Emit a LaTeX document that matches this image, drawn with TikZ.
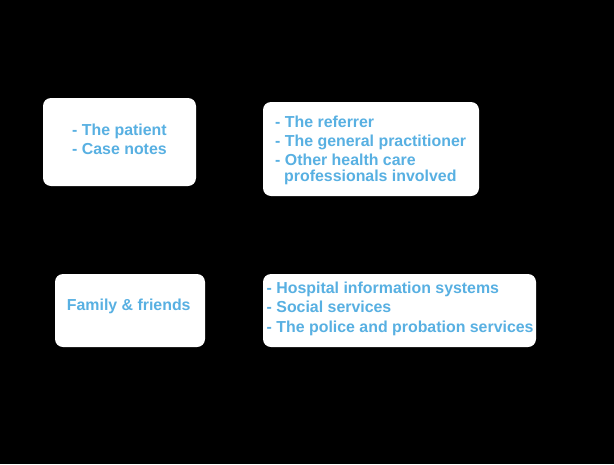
\documentclass[tikz,border=0pt]{standalone}
\usepackage{fontspec}
\setmainfont{Liberation Sans}
\definecolor{txtblue}{RGB}{88,176,226}
\tikzset{
  box/.style={draw=none,fill=white,rounded corners=8pt},
  ln/.style={anchor=base west,inner sep=0pt,text=txtblue,font=\bfseries\fontsize{15.9}{19}\selectfont}
}
\begin{document}
\begin{tikzpicture}[x=1pt,y=-1pt]
\fill[black] (0,0) rectangle (614,464);
\useasboundingbox (0,0) rectangle (614,464);
% boxes
\node[box,minimum width=153pt,minimum height=88pt,inner sep=0pt] (b1) at (119.5,142) {};
\node[box,minimum width=216pt,minimum height=94pt,inner sep=0pt] (b2) at (371,149) {};
\node[box,minimum width=150pt,minimum height=73pt,inner sep=0pt] (b3) at (130,310.5) {};
\node[box,minimum width=273pt,minimum height=73pt,inner sep=0pt] (b4) at (399.5,310.5) {};
% texts
\node[ln] (t11) at (72,135) {- The patient};
\node[ln] (t12) at (72,154) {- Case notes};
\node[ln] (t21) at (275,127) {- The referrer};
\node[ln] (t22) at (275,146) {- The general practitioner};
\node[ln] (t23) at (275,165) {- Other health care};
\node[ln] (t24) at (284,181) {professionals involved};
\node[ln] (t31) at (66.7,310) {Family \& friends};
\node[ln] (t41) at (266.5,293) {- Hospital information systems};
\node[ln] (t42) at (266.5,312.5) {- Social services};
\node[ln] (t43) at (266.5,332) {- The police and probation services};
\end{tikzpicture}
\end{document}
